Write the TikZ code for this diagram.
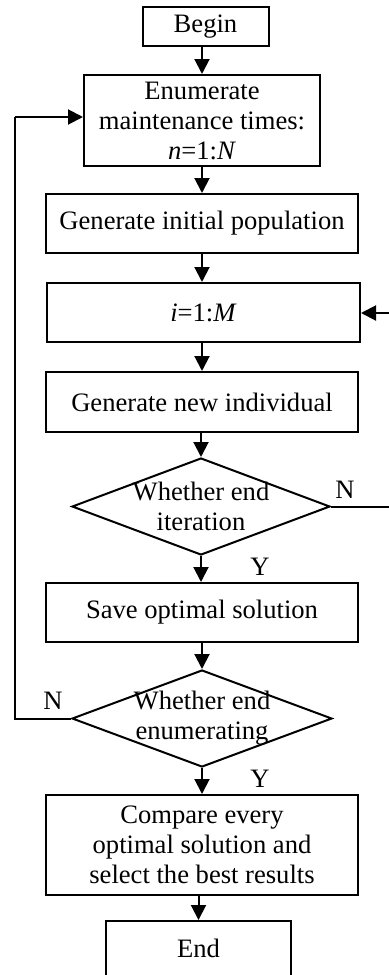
\documentclass[tikz,border=0pt]{standalone}
\usepackage{fontspec}
\setmainfont{Liberation Serif}
\usetikzlibrary{shapes.geometric,arrows.meta}
\begin{document}
\begin{tikzpicture}[x=0.5pt,y=-0.5pt,
  every node/.style={font=\fontsize{13.3}{15}\selectfont},
  box/.style={draw,line width=1pt,rectangle,inner sep=0pt,align=center},
  dec/.style={draw,line width=1pt,diamond,shape aspect=2.66,inner xsep=0pt,inner ysep=-2.5pt,align=center},
  lab/.style={anchor=base,inner sep=0pt},
  conn/.style={line width=1pt,-{Triangle[length=7.5pt,width=7.5pt]}},
  plain/.style={line width=1pt}]
\useasboundingbox (0,0) rectangle (388,975);
\node[box,minimum width=63pt,minimum height=19.5pt] (begin) at (205.5,26.5) {Begin};
\node[box,minimum width=118pt,minimum height=45.5pt] (enum) at (202,120.5) {Enumerate\\maintenance times:\\\textit{n}=1:\textit{N}};
\node[box,minimum width=156pt,minimum height=29.5pt] (init) at (202,223.5) {Generate initial population};
\node[box,minimum width=156.5pt,minimum height=29.5pt] (im) at (203.5,312.5) {\textit{i}=1:\textit{M}};
\node[box,minimum width=156pt,minimum height=30pt] (new) at (202,402) {Generate new individual};
\node[dec,minimum width=129pt,minimum height=48.5pt] (d1) at (201,506.5) {Whether end\\iteration};
\node[box,minimum width=156pt,minimum height=29.5pt] (save) at (202,612.5) {Save optimal solution};
\node[dec,minimum width=130pt,minimum height=48.5pt] (d2) at (202,718.5) {Whether end\\enumerating};
\node[box,minimum width=156pt,minimum height=50pt] (cmp) at (202,845) {Compare every\\optimal solution and\\select the best results};
\node[box,minimum width=92.5pt,minimum height=30pt,text depth=3pt] (end) at (198.5,951) {End};
\node[lab] (n1) at (345,498) {N};
\node[lab] (y1) at (260,575) {Y};
\node[lab] (n2) at (53,709) {N};
\node[lab] (y2) at (260,787) {Y};
\coordinate (r1) at (392,506.5);
\coordinate (r2) at (392,313);
\coordinate (l1) at (15,718.5);
\coordinate (l2) at (15,117);
\draw[conn] (begin.south -| enum.north) -- (enum.north);
\draw[conn] (enum.south) -- (init.north);
\draw[conn] (init.south) -- (init.south |- im.north);
\draw[conn] (im.south -| new.north) -- (new.north);
\draw[conn] (new.south -| d1.north) -- (d1.north);
\draw[conn] (d1.south) -- (d1.south |- save.north);
\draw[conn] (save.south -| d2.north) -- (d2.north);
\draw[conn] (d2.south) -- (d2.south |- cmp.north);
\draw[conn] (cmp.south -| end.north) -- (end.north);
\draw[plain] (d1.east) -- (r1) -- (r2);
\draw[conn] (r2) -- (r2 -| im.east);
\draw[plain] (d2.west) -- (l1) -- (l2);
\draw[conn] (l2) -- (l2 -| enum.west);
\end{tikzpicture}
\end{document}
